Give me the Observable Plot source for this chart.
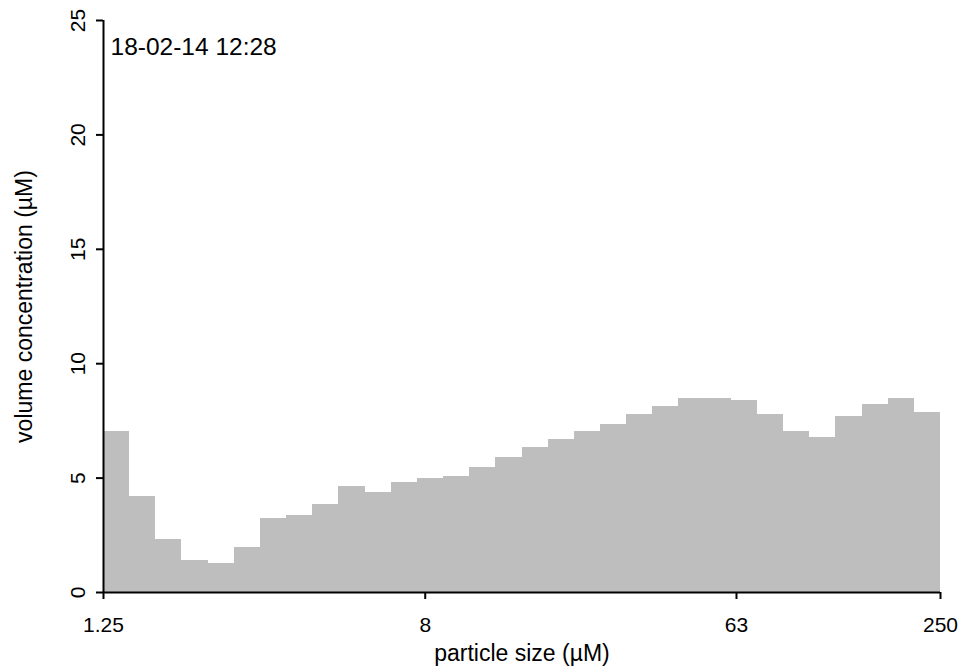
<!DOCTYPE html>
<html>
<head>
<meta charset="utf-8">
<script src="https://cdn.jsdelivr.net/npm/d3@7"></script>
<script src="https://cdn.jsdelivr.net/npm/@observablehq/plot@0.6"></script>
<style>
  html, body { margin: 0; padding: 0; background: #fff; }
  #chart svg { display: block; }
</style>
</head>
<body>
<div id="chart"></div>
<script>
// 32 size bins (1.25 – 250 µm), volume concentration per bin
const binIndex = d3.range(32);
const volumeConc = [7.04, 4.19, 2.30, 1.41, 1.25, 1.95, 3.22, 3.38, 3.83, 4.63, 4.37, 4.82,
                    4.99, 5.08, 5.45, 5.88, 6.33, 6.69, 7.04, 7.34, 7.77, 8.14, 8.48, 8.48,
                    8.40, 7.79, 7.04, 6.78, 7.69, 8.21, 8.50, 7.86];
const xTickPos = [0, 12.3, 24.2, 32];
const xTickLabels = ["1.25", "8", "63", "250"];
const yTicks = [0, 5, 10, 15, 20, 25];
const annotation = "18-02-14 12:28";
const xTitle = "particle size (µM)";
const yTitle = "volume concentration (µM)";

const bins = binIndex.map((i) => ({i0: i, i1: i + 1, v: volumeConc[i]}));
const labelByPos = new Map(xTickPos.map((p, i) => [p, xTickLabels[i]]));

const font = "Liberation Sans, Arial, sans-serif";

const chart = Plot.plot({
  width: 961,
  height: 666,
  marginLeft: 103,
  marginRight: 21,
  marginTop: 20,
  marginBottom: 74,
  style: {fontFamily: font, color: "#000", background: "#fff"},
  x: {type: "linear", domain: [0, 32]},
  y: {domain: [0, 25]},
  marks: [
    Plot.rectY(bins, {x1: "i0", x2: "i1", y: "v", fill: "#bebebe", shapeRendering: "crispEdges"}),
    Plot.ruleX([0], {y1: 0, y2: 25, stroke: "#000", strokeWidth: 2}),
    Plot.ruleY([0], {x1: 0, x2: 32, stroke: "#000", strokeWidth: 2}),
    Plot.axisX(xTickPos, {
      tickFormat: (d) => labelByPos.get(d),
      tickSize: 7, tickPadding: 18, strokeWidth: 2, fontSize: 21,
      label: null
    }),
    Plot.axisY(yTicks, {
      tickSize: 7, tickPadding: 12, tickRotate: -90, strokeWidth: 2, fontSize: 21,
      label: null
    }),
    Plot.text([xTitle], {
      frameAnchor: "bottom", dy: 61, lineAnchor: "middle", fontSize: 23, fill: "#000"
    }),
    Plot.text([yTitle], {
      frameAnchor: "left", dx: -79, rotate: -90, textAnchor: "middle",
      lineAnchor: "middle", fontSize: 23, fill: "#000"
    }),
    Plot.text([annotation], {
      frameAnchor: "top-left", dx: 7, dy: 17, lineAnchor: "top",
      textAnchor: "start", fontSize: 24.5, fill: "#000"
    })
  ]
});
document.getElementById("chart").appendChild(chart);
</script>
</body>
</html>
